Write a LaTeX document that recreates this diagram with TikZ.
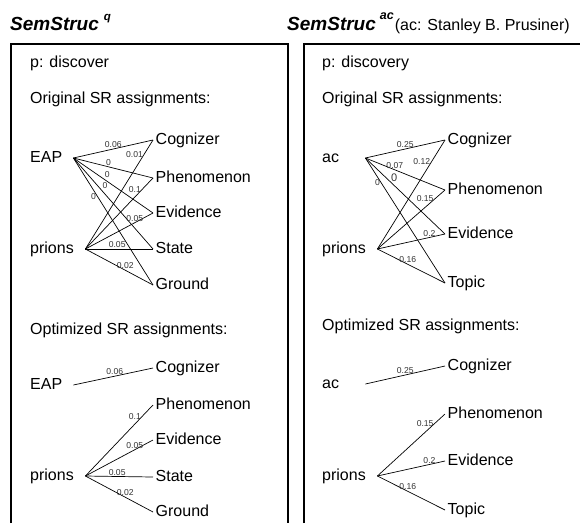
\documentclass[tikz,border=0pt]{standalone}
\usepackage{fontspec}
\setmainfont{Liberation Sans}
\tikzset{>=latex}
\tikzset{
  txt/.style={font=\fontsize{16}{19}\selectfont, inner sep=0pt, anchor=west},
  src/.style={txt, text height=11.5pt, text depth=3.5pt, align=left},
  role/.style={txt, inner xsep=2.5pt, text height=11.5pt, text depth=3.5pt},
  ttl/.style={font=\fontsize{19}{21}\selectfont\bfseries\itshape, inner sep=0pt, anchor=base west},
  lbl/.style={font=\fontsize{8.6}{9}\selectfont, text=black!80, inner sep=1pt},
  edge/.style={line width=0.7pt},
  frame/.style={line width=2pt}
}

\begin{document}
\begin{tikzpicture}[x=1pt, y=-1pt]
		\useasboundingbox (0,0) rectangle (580,523);
		\clip (0,0) rectangle (580,523);

			% titles
			\node[ttl] (ttlq) at (10,30) {SemStruc\hspace{5pt}\raisebox{10pt}{\fontsize{11.5}{12}\selectfont q}};
			\node[ttl] (ttlac) at (287,30) {SemStruc\hspace{4pt}\raisebox{11pt}{\fontsize{12.5}{13}\selectfont ac}\hspace{1pt}{\normalfont\fontsize{16}{19}\selectfont (ac: Stanley B. Prusiner)}};

			% frames
			\draw[frame] (11,523) -- (11,44) -- (288,44) -- (288,523);
			\draw[frame] (304,523) -- (304,44) -- (582,44);

			% left panel
			\node[txt] (pq) at (30,63) {p: discover};
			\node[txt] (origq) at (30,99) {Original SR assignments:};
			\node[txt] (optq) at (30,330) {Optimized SR assignments:};

			\node[src, text width=43pt] (eapA) at (30,158) {EAP};
			\node[src, text width=55pt] (prionsA) at (30,249) {prions};
			\node[role] (cogA) at (153,140) {Cognizer};
			\node[role] (phenA) at (153,178) {Phenomenon};
			\node[role] (evidA) at (153,213) {Evidence};
			\node[role] (stateA) at (153,249) {State};
			\node[role] (groundA) at (153,285) {Ground};

			\draw[edge] (eapA.east) -- node[lbl, pos=.5, above] {0.06} (cogA.west);
			\draw[edge] (eapA.east) -- node[lbl, pos=.44, above] {0} (phenA.west);
			\draw[edge] (eapA.east) -- node[lbl, pos=.38, above right] {0} (evidA.west);
			\draw[edge] (eapA.east) -- node[lbl, pos=.35, above right] {0} (stateA.west);
			\draw[edge] (eapA.east) -- node[lbl, pos=.3, left] {0} (groundA.west);
			\draw[edge] (prionsA.east) -- node[lbl, pos=.87, left] {0.01} (cogA.west);
			\draw[edge] (prionsA.east) -- node[lbl, pos=.84, left] {0.1} (phenA.west);
			\draw[edge] (prionsA.east) -- node[lbl, pos=.73, above] {0.05} (evidA.west);
			\draw[edge] (prionsA.east) -- node[lbl, pos=.47, above] {0.05} (stateA.west);
			\draw[edge] (prionsA.east) -- node[lbl, pos=.59, above] {0.02} (groundA.west);

			\node[src, text width=43pt] (eapB) at (30,385) {EAP};
			\node[src, text width=55pt] (prionsB) at (30,476) {prions};
			\node[role] (cogB) at (153,368) {Cognizer};
			\node[role] (phenB) at (153,405) {Phenomenon};
			\node[role] (evidB) at (153,440) {Evidence};
			\node[role] (stateB) at (153,477) {State};
			\node[role] (groundB) at (153,512) {Ground};

			\draw[edge] (eapB.east) -- node[lbl, pos=.52, above] {0.06} (cogB.west);
			\draw[edge] (prionsB.east) -- node[lbl, pos=.84, left] {0.1} (phenB.west);
			\draw[edge] (prionsB.east) -- node[lbl, pos=.73, above] {0.05} (evidB.west);
			\draw[edge] (prionsB.east) -- node[lbl, pos=.47, above] {0.05} (stateB.west);
			\draw[edge] (prionsB.east) -- node[lbl, pos=.59, above] {0.02} (groundB.west);

			% right panel
			\node[txt] (pac) at (322,63) {p: discovery};
			\node[txt] (origac) at (322,99) {Original SR assignments:};
			\node[txt] (optac) at (322,326) {Optimized SR assignments:};

			\node[src, text width=43pt] (acC) at (322,158) {ac};
			\node[src, text width=55pt] (prionsC) at (322,249) {prions};
			\node[role] (cogC) at (445,140) {Cognizer};
			\node[role] (phenC) at (445,190) {Phenomenon};
			\node[role] (evidC) at (445,234) {Evidence};
			\node[role] (topicC) at (445,283) {Topic};

			\draw[edge] (acC.east) -- node[lbl, pos=.5, above] {0.25} (cogC.west);
			\draw[edge] (acC.east) -- node[lbl, pos=.37, above] {0.07} (phenC.west);
			\draw[edge] (acC.east) -- node[lbl, pos=.36, above, yshift=2pt, font=\fontsize{11}{12}\selectfont] {0} (evidC.west);
			\draw[edge] (acC.east) -- node[lbl, pos=.2, left] {0} (topicC.west);
			\draw[edge] (prionsC.east) -- node[lbl, pos=.8, left] {0.12} (cogC.west);
			\draw[edge] (prionsC.east) -- node[lbl, pos=.85, left] {0.15} (phenC.west);
			\draw[edge] (prionsC.east) -- node[lbl, pos=.77, above] {0.2} (evidC.west);
			\draw[edge] (prionsC.east) -- node[lbl, pos=.45, above] {0.16} (topicC.west);

			\node[src, text width=43pt] (acD) at (322,384) {ac};
			\node[src, text width=55pt] (prionsD) at (322,476) {prions};
			\node[role] (cogD) at (445,366) {Cognizer};
			\node[role] (phenD) at (445,414) {Phenomenon};
			\node[role] (evidD) at (445,461) {Evidence};
			\node[role] (topicD) at (445,510) {Topic};

			\draw[edge] (acD.east) -- node[lbl, pos=.5, above] {0.25} (cogD.west);
			\draw[edge] (prionsD.east) -- node[lbl, pos=.85, left] {0.15} (phenD.west);
			\draw[edge] (prionsD.east) -- node[lbl, pos=.77, above] {0.2} (evidD.west);
			\draw[edge] (prionsD.east) -- node[lbl, pos=.45, above] {0.16} (topicD.west);

		\end{tikzpicture}
\end{document}
